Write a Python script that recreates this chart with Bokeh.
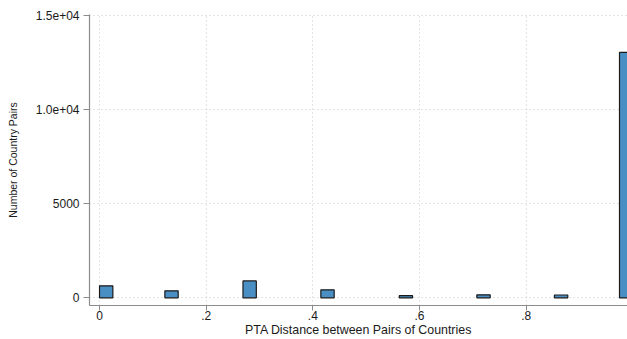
from bokeh.plotting import figure
from bokeh.models import Range1d, FixedTicker, ColumnDataSource
from bokeh.embed import file_html
from bokeh.resources import INLINE

# Histogram of PTA distance between country pairs
bin_left = [0.0, 0.1225, 0.269, 0.415, 0.562, 0.7075, 0.853, 0.975]
bin_width = 0.025
counts = [636, 371, 900, 424, 115, 160, 150, 13040]

x_ticks = [0, 0.2, 0.4, 0.6, 0.8]
x_tick_labels = ["0", ".2", ".4", ".6", ".8"]
y_ticks = [0, 5000, 10000, 15000]
y_tick_labels = ["0", "5000", "1.0e+04", "1.5e+04"]

FONT = "Liberation Sans"

src = ColumnDataSource(dict(
    left=bin_left,
    right=[l + bin_width for l in bin_left],
    top=counts,
    bottom=[0] * len(counts),
))

p = figure(width=627, height=339, output_backend="svg", toolbar_location=None,
           x_range=Range1d(-0.0188, 0.990), y_range=Range1d(-408, 15053),
           min_border_left=89, min_border_right=0, min_border_top=14,
           min_border_bottom=33, background_fill_color="white",
           border_fill_color="white")
p.outline_line_color = None

p.quad(left="left", right="right", top="top", bottom="bottom", source=src,
       fill_color="#4a8fc3", line_color="#1a1a1a", line_width=1.2)

# axes
p.xaxis.ticker = FixedTicker(ticks=x_ticks)
p.xaxis.major_label_overrides = dict(zip(x_ticks, x_tick_labels))
p.yaxis.ticker = FixedTicker(ticks=y_ticks)
p.yaxis.major_label_overrides = dict(zip(y_ticks, y_tick_labels))
p.xaxis.axis_label = "PTA Distance between Pairs of Countries"
p.yaxis.axis_label = "Number of Country Pairs"

for ax in (p.xaxis[0], p.yaxis[0]):
    ax.axis_line_color = "#8c8c8c"
    ax.axis_line_width = 1.2
    ax.major_tick_line_color = "#8c8c8c"
    ax.major_tick_in = 0
    ax.major_tick_out = 6
    ax.minor_tick_line_color = None
    ax.major_label_text_font = FONT
    ax.major_label_text_font_size = "12px"
    ax.major_label_text_color = "#1a1a1a"
    ax.axis_label_text_font = FONT
    ax.axis_label_text_font_style = "normal"
    ax.axis_label_text_color = "#1a1a1a"

p.xaxis.major_tick_out = 5
p.xaxis.major_label_standoff = 0
p.xaxis.axis_label_text_font_size = "12.4px"
p.xaxis.axis_label_standoff = 0
p.yaxis.major_label_standoff = 4
p.yaxis.axis_label_text_font_size = "10.5px"
p.yaxis.axis_label_standoff = 14
p.yaxis.major_label_orientation = "horizontal"

p.xgrid.grid_line_color = "#c8c8c8"
p.xgrid.grid_line_dash = "1 3"
p.ygrid.grid_line_color = "#c8c8c8"
p.ygrid.grid_line_dash = "1 3"

open("out.html", "w").write(file_html(p, INLINE))
